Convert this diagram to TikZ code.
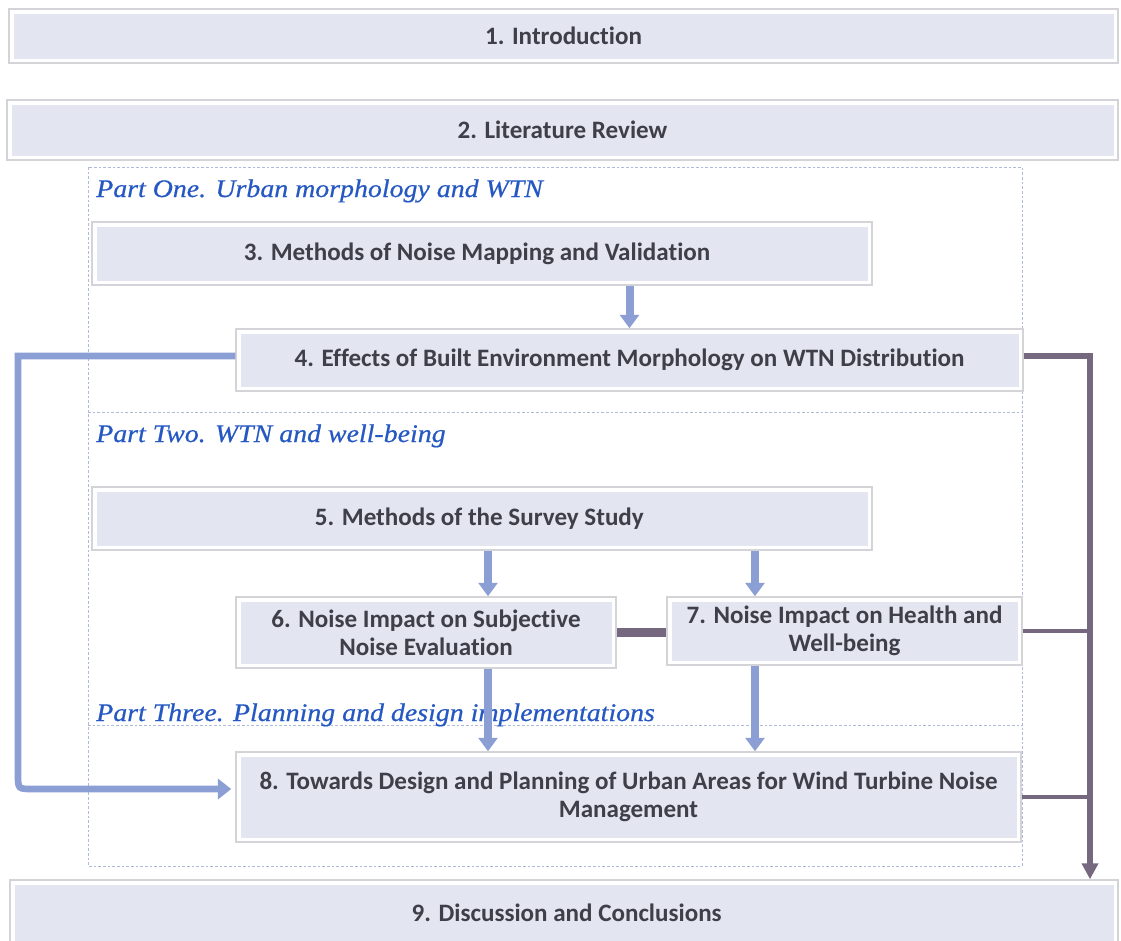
\documentclass[tikz,border=0pt]{standalone}
\usepackage{fontspec}
\setmainfont{Carlito}[Ligatures=NoCommon]
\newfontfamily\partfont{Liberation Serif}[FakeStretch=1.1, FakeBold=0.6]
\usetikzlibrary{arrows.meta}
\definecolor{boxfill}{HTML}{E3E6F0}
\definecolor{boxline}{HTML}{D4D4D8}
\definecolor{txt}{HTML}{3E3F48}
\definecolor{flowblue}{HTML}{8C9FD5}
\definecolor{flowdark}{HTML}{76687F}
\definecolor{partblue}{HTML}{2558C2}
\definecolor{framecol}{HTML}{AEBBD8}

\begin{document}
\begin{tikzpicture}[x=0.75pt,y=-0.75pt,
  chapter/.style={draw=boxline, line width=1.1pt, fill=white, inner sep=0pt,
    font=\fontsize{18.8}{20.8}\selectfont\bfseries, text=txt, align=center,
    path picture={\fill[boxfill]
      ([xshift=4pt,yshift=-3.5pt]path picture bounding box.north west) rectangle
      ([xshift=-3pt,yshift=3pt]path picture bounding box.south east);}},
  sz/.style 2 args={minimum width=#1*0.75pt, minimum height=#2*0.75pt},
  partlabel/.style={anchor=base west, inner sep=0pt, text=partblue,
    font=\partfont\itshape\fontsize{19}{22}\selectfont},
  frameline/.style={draw=framecol, line width=0.6pt, dash pattern=on 2pt off 1.5pt},
  bluearrow/.style={draw=flowblue, line width=6pt, -{Triangle[width=14pt,length=10pt]}},
  bluefeed/.style={draw=flowblue, line width=5pt, -{Triangle[width=15pt,length=10pt]}},
  darktrunk/.style={draw=flowdark, line width=4.5pt, -{Triangle[width=12pt,length=12pt]}},
  darkbranch/.style={draw=flowdark, line width=3pt},
  darklink/.style={draw=flowdark, line width=7pt}
]
\useasboundingbox (0,0) rectangle (1121,940);

% dashed frame holding the three parts
\draw[frameline] (88,167) rectangle (1022,866);
\draw[frameline] (88,412) -- (1022,412);
\draw[frameline] (88,725) -- (1022,725);

% chapter boxes
\node[chapter, sz={1109}{54}] (n1) at (563.5,36) {1. Introduction};
\node[chapter, sz={1111}{60}] (n2) at (562.5,130) {2. Literature Review};
\node[chapter, sz={780}{63}] (n3) at (482,253.5) {3. Methods of Noise Mapping and Validation\hspace*{7.5pt}};
\node[chapter, sz={787}{62}] (n4) at (629.5,360) {4. Effects of Built Environment Morphology on WTN Distribution};
\node[chapter, sz={780}{63}] (n5) at (482,518.5) {5. Methods of the Survey Study\hspace*{4pt}};
\node[chapter, sz={380}{71}] (n6) at (426,632.5) {6. Noise Impact on Subjective\\Noise Evaluation};
\node[chapter, sz={355}{68}] (n7) at (844.5,631) {7. Noise Impact on Health and\\Well-being};
\node[chapter, sz={785}{90}] (n8) at (628.5,797) {8. Towards Design and Planning of Urban Areas for Wind Turbine Noise\\Management};
\node[chapter, sz={1108}{66}] (n9) at (564,913) {\hspace*{4pt}9. Discussion and Conclusions};

% part headings
\node[partlabel] (p1) at (96,197) {Part One. Urban morphology and WTN};
\node[partlabel] (p2) at (96,442) {Part Two. WTN and well-being};
\node[partlabel] (p3) at (96,721) {Part Three. Planning and design implementations};

% columns of the vertical arrows and the side connectors
\coordinate (c6) at (488,0);
\coordinate (c7) at (755,0);
\coordinate (cl) at (18,0);
\coordinate (cr) at (1090,0);
\coordinate (w4) at ([yshift=3pt]n4.west);
\coordinate (e4) at ([yshift=3pt]n4.east);
\coordinate (w8) at ([xshift=-3pt,yshift=6pt]n8.west);
\coordinate (bend) at (cl |- w8);

% blue flow arrows
\draw[bluearrow] (n4.north |- n3.south) -- (n4.north);
\draw[bluearrow] (c6 |- n5.south) -- (c6 |- n6.north);
\draw[bluearrow] (c7 |- n5.south) -- (c7 |- n7.north);
\draw[bluearrow] (c6 |- n6.south) -- (c6 |- n8.north);
\draw[bluearrow] (c7 |- n7.south) -- (c7 |- n8.north);

% feedback from chapter 4 to chapter 8, square at the top, rounded at the bottom
\draw[bluefeed] (w4) -- (cl |- w4) -- ([yshift=11pt]bend)
  .. controls (bend) .. ([xshift=11pt]bend) -- (w8);

% link between chapters 6 and 7
\draw[darklink] (n6.east) -- (n6.east -| n7.west);

% trunk down to chapter 9
\draw[darktrunk] (e4) -- (cr |- e4) -- (cr |- n9.north);
\draw[darkbranch] (n7.east) -- (cr |- n7.east);
\draw[darkbranch] (n8.east) -- (cr |- n8.east);
\end{tikzpicture}
\end{document}
